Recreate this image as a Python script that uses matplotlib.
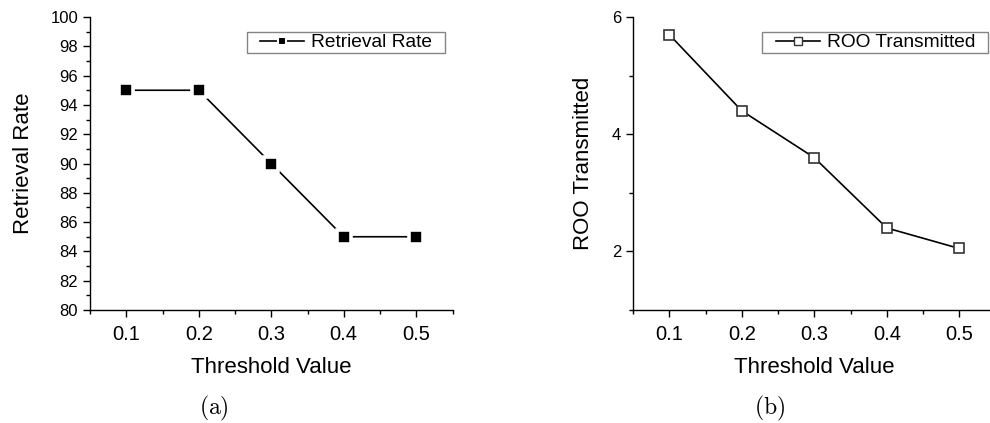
import matplotlib
matplotlib.use("Agg")
import matplotlib.pyplot as plt
from matplotlib.ticker import MultipleLocator
from matplotlib.lines import Line2D
from matplotlib.legend_handler import HandlerBase

plt.rcParams['font.family'] = ['Liberation Sans', 'DejaVu Sans']
plt.rcParams['mathtext.fontset'] = 'cm'

thresholds = [0.1, 0.2, 0.3, 0.4, 0.5]
threshold_labels = ['0.1', '0.2', '0.3', '0.4', '0.5']
retrieval_rate = [95, 95, 90, 85, 85]
roo_transmitted = [5.7, 4.4, 3.6, 2.4, 2.05]


class PaddedLineMarker(HandlerBase):
    """Legend key: a short line with a small centred marker, indented from the frame."""

    def __init__(self, pad, ms, mfc, mec, mew):
        super().__init__()
        self.pad, self.ms, self.mfc, self.mec, self.mew = pad, ms, mfc, mec, mew

    def create_artists(self, legend, orig_handle, xdescent, ydescent,
                       width, height, fontsize, trans):
        y = height / 2 - ydescent
        x0 = -xdescent + self.pad
        x1 = -xdescent + width
        line = Line2D([x0, x1], [y, y], color='black', lw=1.2)
        mark = Line2D([(x0 + x1) / 2], [y], marker='s', ms=self.ms,
                      mfc=self.mfc, mec=self.mec, mew=self.mew, linestyle='none')
        line.set_transform(trans)
        mark.set_transform(trans)
        return [line, mark]


fig = plt.figure(figsize=(9.9, 4.23), dpi=100)
ax1 = fig.add_axes([90 / 990, 1 - 310 / 423, 362.5 / 990, 293 / 423])
ax2 = fig.add_axes([633 / 990, 1 - 310 / 423, 362.5 / 990, 293 / 423])


def style(ax):
    for s in ('top', 'right'):
        ax.spines[s].set_visible(False)
    for s in ('left', 'bottom'):
        ax.spines[s].set_linewidth(1.0)
    ax.set_xlim(0.05, 0.55)
    ax.xaxis.set_minor_locator(MultipleLocator(0.05))
    ax.tick_params(which='major', direction='out', length=5, width=1.0)
    ax.tick_params(which='minor', direction='out', length=3, width=1.0)
    ax.set_xticks(thresholds)
    ax.set_xticklabels(threshold_labels)
    ax.tick_params(axis='x', which='major', pad=6, labelsize=14.5)
    ax.tick_params(axis='y', which='major', labelsize=12)
    ax.set_xlabel('Threshold Value', fontsize=16, labelpad=9)


def add_legend(ax, handle, label, key):
    leg = ax.legend([handle], [label + '  '], loc='upper right',
                    bbox_to_anchor=(0.979, 0.949), fontsize=13.8,
                    fancybox=False, edgecolor='#666666', handlelength=2.9,
                    borderpad=0.1, handletextpad=0.37, borderaxespad=0.0,
                    handler_map={handle: key})
    leg.get_frame().set_linewidth(1.0)
    return leg


line1, = ax1.plot(thresholds, retrieval_rate, color='black', lw=1.2, marker='s',
                  markersize=10.0, markerfacecolor='black', markeredgecolor='white',
                  markeredgewidth=2.6)
style(ax1)
ax1.set_ylim(80, 100)
ax1.yaxis.set_major_locator(MultipleLocator(2))
ax1.yaxis.set_minor_locator(MultipleLocator(1))
ax1.set_ylabel('Retrieval Rate', fontsize=16, labelpad=12)
add_legend(ax1, line1, 'Retrieval Rate',
           PaddedLineMarker(8.6, 5.8, 'black', 'white', 1.5))

line2, = ax2.plot(thresholds, roo_transmitted, color='black', lw=1.2, marker='s',
                  markersize=7.4, markerfacecolor='white', markeredgecolor='#333333',
                  markeredgewidth=1.2)
style(ax2)
ax2.set_ylim(1, 6)
ax2.yaxis.set_major_locator(MultipleLocator(2))
ax2.yaxis.set_minor_locator(MultipleLocator(1))
ax2.set_ylabel('ROO Transmitted', fontsize=16, labelpad=13)
add_legend(ax2, line2, 'ROO Transmitted',
           PaddedLineMarker(8.6, 5.2, 'white', '#333333', 1.0))

fig.text(214 / 990, 1 - 408 / 423, r'$\mathrm{(a)}$', fontsize=17, ha='center', va='center')
fig.text(770 / 990, 1 - 408 / 423, r'$\mathrm{(b)}$', fontsize=17, ha='center', va='center')

fig.savefig('out.png', dpi=100)
